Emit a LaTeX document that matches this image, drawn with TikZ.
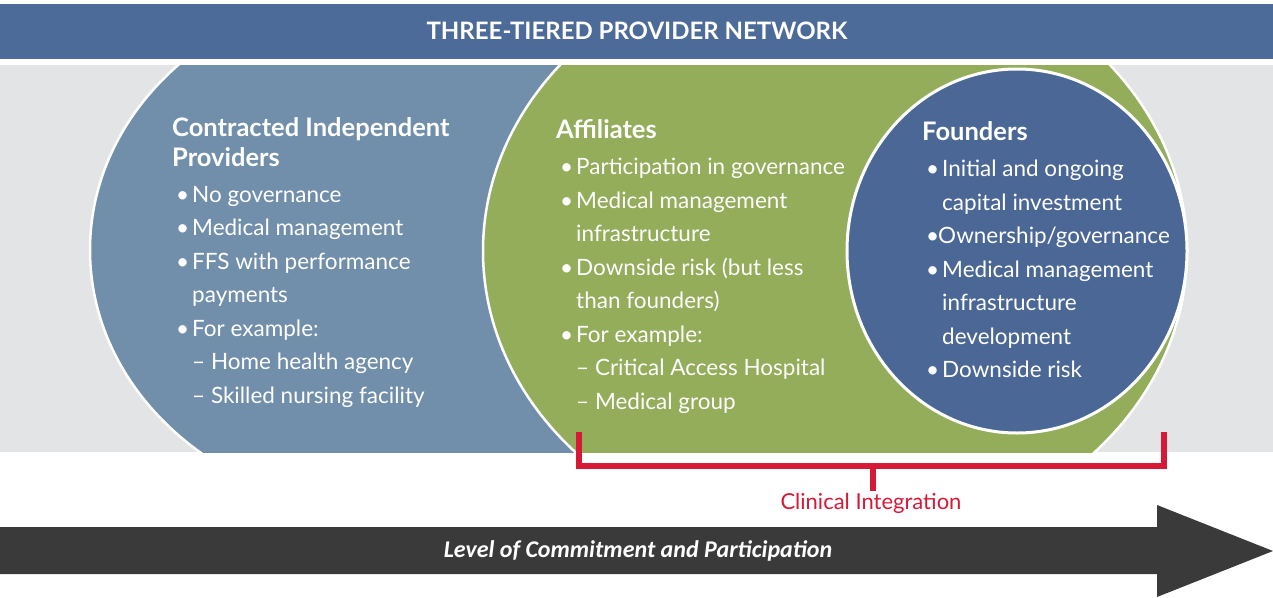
\documentclass[tikz,border=0pt]{standalone}
\usepackage{fontspec}
\setmainfont{Lato}
\newfontfamily\arrowfont{Carlito}
\usetikzlibrary{positioning, calc}

\definecolor{titleblue}{RGB}{77,107,152}
\definecolor{bandgray}{RGB}{227,228,230}
\definecolor{steelblue}{RGB}{113,143,170}
\definecolor{affgreen}{RGB}{147,173,90}
\definecolor{founderblue}{RGB}{74,103,150}
\definecolor{cired}{RGB}{213,25,55}
\definecolor{darkarrow}{RGB}{58,58,58}

% bullet and continuation indent for the lists
\newcommand{\bul}{\makebox[16pt][l]{\textbullet}}
\newcommand{\cont}{\hspace*{16pt}}

\begin{document}
\begin{tikzpicture}[
    x=1pt, y=-1pt,
    heading/.style={anchor=north west, inner sep=0pt, align=left, text=white, font=\bfseries\fontsize{25.5}{30}\selectfont},
    itemlist/.style={anchor=north west, inner sep=0pt, align=left, text=white, font=\fontsize{22.5}{33.5}\selectfont},
    ring/.style={draw=white, line width=2.5pt},
    bracket/.style={draw=cired, line width=6pt, line join=miter}
]
    \useasboundingbox (0,0) rectangle (1273,597);

    % Title bar
    \fill[titleblue] (0,4) rectangle (1273,59);
    \node[text=white, font=\bfseries\fontsize{24}{28}\selectfont] (title) at (637,31) {THREE-TIERED PROVIDER NETWORK};

    % Grey band with the three tiers
    \fill[bandgray] (0,65) rectangle (1273,452);
    \begin{scope}
        \clip (0,65) rectangle (1273,452);
        \fill[steelblue, ring] (395,250) ellipse [x radius=305, y radius=263];
        \fill[affgreen, ring] (835,251) ellipse [x radius=352, y radius=298];
    \end{scope}
    \fill[founderblue, ring, line width=3pt] (1017,251) ellipse [x radius=170, y radius=182];

    % Contracted independent providers
    \node[heading] (cipHead) at (172,117) {Contracted Independent\\Providers};
    \node[itemlist] (cipList) at (176,186) {\bul No governance\\
        \bul Medical management\\
        \bul FFS with performance\\
        \cont payments\\
        \bul For example:\\
        \cont\textendash\ Home health agency\\
        \cont\textendash\ Skilled nursing facility};

    % Affiliates
    \node[heading] (affHead) at (556,119) {Affiliates};
    \node[itemlist] (affList) at (560,158) {\bul Participation in governance\\
        \bul Medical management\\
        \cont infrastructure\\
        \bul Downside risk (but less\\
        \cont than founders)\\
        \bul For example:\\
        \cont\textendash\ Critical Access Hospital\\
        \cont\textendash\ Medical group};

    % Founders
    \node[heading] (fndHead) at (922,121) {Founders};
    \node[itemlist] (fndList) at (926,160) {\bul Initial and ongoing\\
        \cont capital investment\\
        \makebox[12pt][l]{\textbullet}Ownership/governance\\
        \bul Medical management\\
        \cont infrastructure\\
        \cont development\\
        \bul Downside risk};

    % Clinical integration bracket
    \coordinate (ciLeft) at (579,432);
    \coordinate (ciRight) at (1164,432);
    \coordinate (ciMid) at (873,466);
    \node[text=cired, font=\fontsize{22}{26}\selectfont, inner sep=2pt] (ciLabel) at (871,503) {Clinical Integration};
    \draw[bracket] (ciLeft) |- (ciMid) -| (ciRight);
    \draw[bracket] (ciMid) -- (ciLabel.north -| ciMid);

    % Commitment arrow
    \fill[darkarrow] (0,527) -- (1157,527) -- (1157,505) -- (1273,551) -- (1157,597) -- (1157,574) -- (0,574) -- cycle;
    \node[text=white, font=\arrowfont\bfseries\itshape\fontsize{24}{28}\selectfont] (commit) at (638,551) {Level of Commitment and Participation};
\end{tikzpicture}
\end{document}
